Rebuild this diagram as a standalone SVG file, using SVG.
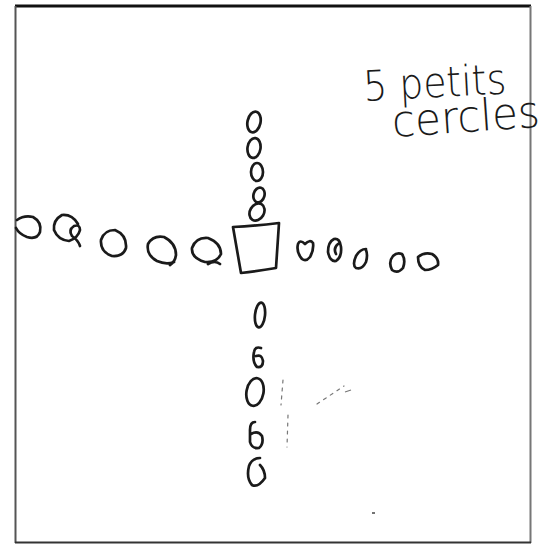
<svg xmlns="http://www.w3.org/2000/svg" width="547" height="544" viewBox="0 0 547 544">
<style>
.ink{fill:none;stroke:#1a1a1a;stroke-width:2.7;stroke-linecap:round;stroke-linejoin:round}
.faint{fill:none;stroke:#777;stroke-width:1.2;stroke-dasharray:3 5;stroke-linecap:round}
.hand{font-family:"DejaVu Sans","Liberation Sans",sans-serif;fill:#1a1a1a;font-weight:300}
</style>
<rect width="547" height="544" fill="#fff"/>
<g id="frame">
<line x1="15" y1="6" x2="531" y2="6" stroke="#111" stroke-width="3"/>
<line x1="15.5" y1="6" x2="15.5" y2="543" stroke="#555" stroke-width="2"/>
<line x1="530.5" y1="6" x2="530.5" y2="543" stroke="#777" stroke-width="2"/>
<line x1="15" y1="542.5" x2="531" y2="542.5" stroke="#333" stroke-width="2"/>
</g>
<g id="square">
<path class="ink" d="M233,227 Q255,226 279,223 L276,268 Q258,271 241,273 Z"/>
</g>
<g id="top-circles">
<ellipse class="ink" cx="254" cy="122" rx="6.5" ry="10.5" transform="rotate(12 254 122)"/>
<ellipse class="ink" cx="254" cy="148" rx="6.5" ry="10" transform="rotate(8 254 148)"/>
<ellipse class="ink" cx="257" cy="172" rx="6" ry="9"/>
<ellipse class="ink" cx="259" cy="195" rx="5.5" ry="7.5" transform="rotate(15 259 195)"/>
<ellipse class="ink" cx="257" cy="212" rx="7" ry="9" transform="rotate(30 257 212)"/>
</g>
<g id="left-circles">
<path class="ink" d="M17,220 Q24,215 33,217 Q42,222 40,232 Q37,240 27,237 Q19,234 16,228"/>
<path class="ink" d="M78,224 Q72,214 62,215 Q53,220 54,230 Q58,240 69,241 Q78,238 80,230 Q80,224 74,226 Q68,230 72,236 Q78,240 80,246"/>
<path class="ink" d="M101,240 Q104,230 115,230 Q127,235 126,248 Q123,257 112,256 Q100,252 101,240 Z"/>
<path class="ink" d="M174,262 Q166,265 157,261 Q146,255 148,244 Q153,235 164,237 Q176,243 176,255 Q175,262 170,265"/>
<path class="ink" d="M192,248 Q196,237 208,238 Q221,243 221,254 Q217,263 205,262 Q191,258 192,248 Z M208,264 Q215,260 220,264"/>
</g>
<g id="right-circles">
<path class="ink" d="M305,244 Q300,239 298,244 Q296,252 302,259 Q306,262 310,257 Q314,250 313,243 Q310,239 305,244 Z"/>
<path class="ink" d="M334,239 Q328,242 328,252 Q330,262 336,261 Q342,257 341,247 Q340,238 334,239 Z M338,244 Q333,248 336,254"/>
<path class="ink" d="M366,249 Q360,249 356,256 Q352,265 356,268 Q362,270 366,262 Q368,255 366,250"/>
<path class="ink" d="M393,256 Q388,262 392,270 Q398,274 403,268 Q406,260 402,254 Q397,252 393,256 Z"/>
<path class="ink" d="M418,257 Q424,252 432,254 Q439,258 438,265 Q432,270 425,270 Q418,267 418,257 Z"/>
</g>
<g id="bottom-circles">
<ellipse class="ink" cx="260" cy="315" rx="5" ry="12.5" transform="rotate(6 260 315)"/>
<path class="ink" d="M261,348 Q255,346 254,352 Q252,362 257,367 Q263,368 263,361 Q262,354 256,356"/>
<ellipse class="ink" cx="255" cy="392" rx="8.5" ry="14" transform="rotate(10 255 392)"/>
<path class="ink" d="M255,422 Q250,422 250,430 L250,442 Q252,449 259,448 Q264,444 262,436 Q258,430 251,434"/>
<path class="ink" d="M260,458 Q252,458 249,466 Q246,478 252,485 Q258,488 265,478 Q265,470 260,465"/>
</g>
<g id="faint-marks">
<path class="faint" d="M283,380 L281,405"/>
<path class="faint" d="M288,415 L287,447"/>
<path class="faint" d="M317,404 L344,386"/>
<line x1="345" y1="392" x2="351" y2="390" stroke="#777" stroke-width="1.2"/>
<line x1="372" y1="513" x2="375" y2="513" stroke="#444" stroke-width="1.5"/>
</g>
<g id="label">
<text class="hand" x="364" y="101" font-size="42" textLength="143" lengthAdjust="spacingAndGlyphs" transform="rotate(-3 364 101)">5 petits</text>
<text class="hand" x="393" y="137" font-size="44" textLength="148" lengthAdjust="spacingAndGlyphs" transform="rotate(-4 393 137)">cercles</text>
</g>
</svg>
